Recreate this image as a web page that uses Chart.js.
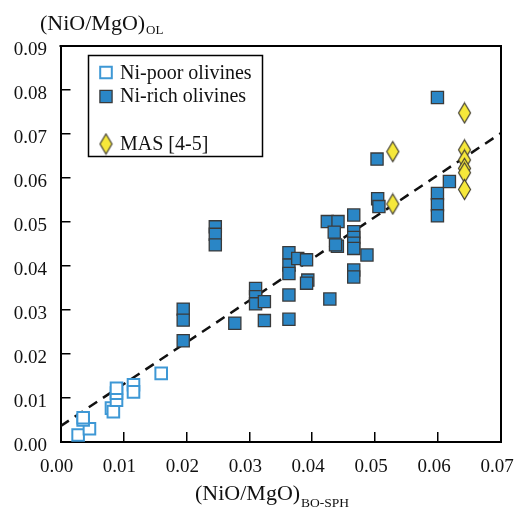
<!DOCTYPE html>
<html lang="en">
<head>
    <meta charset="UTF-8">
    <title>NiO/MgO olivine vs BO-SPH</title>
    <script src="https://cdn.jsdelivr.net/npm/chart.js"></script>
    <style>
        html, body { margin: 0; padding: 0; background: #fff; }
        #wrap { width: 515px; height: 510px; }
    </style>
</head>
<body>
<div id="wrap"><canvas id="chart" width="515" height="510"></canvas></div>
<script>
    // values
    const poorX = [0.0028, 0.0046, 0.0036, 0.0036, 0.0081, 0.0084, 0.0089, 0.0089, 0.0089, 0.0116, 0.0116, 0.0160];
    const poorY = [0.0016, 0.0030, 0.0050, 0.0055, 0.0077, 0.0069, 0.0095, 0.0111, 0.0122, 0.0130, 0.0114, 0.0156];

    const richX = [0.0195, 0.0195, 0.0195, 0.0246, 0.0246, 0.0246, 0.0277, 0.0310, 0.0310, 0.0310,
                   0.0324, 0.0324, 0.0363, 0.0363, 0.0363, 0.0363, 0.0363, 0.0377, 0.0391, 0.0393,
                   0.0391, 0.0424, 0.0441, 0.0435, 0.0440, 0.0437, 0.0428, 0.0466, 0.0466, 0.0466,
                   0.0466, 0.0466, 0.0466, 0.0466, 0.0487, 0.0503, 0.0504, 0.0506, 0.0599, 0.0599,
                   0.0599, 0.0599, 0.0618];
    const richY = [0.0302, 0.0277, 0.0230, 0.0489, 0.0472, 0.0448, 0.0270, 0.0349, 0.0330, 0.0314,
                   0.0319, 0.0276, 0.0430, 0.0402, 0.0383, 0.0334, 0.0279, 0.0417, 0.0414, 0.0368,
                   0.0361, 0.0501, 0.0501, 0.0477, 0.0445, 0.0448, 0.0325, 0.0516, 0.0478, 0.0465,
                   0.0452, 0.0440, 0.0391, 0.0375, 0.0425, 0.0643, 0.0553, 0.0535, 0.0783, 0.0565,
                   0.0539, 0.0514, 0.0592];

    const masX = [0.0528, 0.0528, 0.0642, 0.0642, 0.0642, 0.0642, 0.0642, 0.0642];
    const masY = [0.0660, 0.0541, 0.0748, 0.0664, 0.0641, 0.0622, 0.0612, 0.0574];

    // dashed trend line end points
    const fitX = [0, 0.07];
    const fitY = [0.0036, 0.0702];

    const xMax = 0.07, yMax = 0.09, tickStep = 0.01;

    function pts(xs, ys) {
        return xs.map((x, i) => ({ x: x, y: ys[i] }));
    }

    const serif = "'Liberation Serif', 'Times New Roman', serif";
    const richFill = '#2a86c6';
    const richEdge = '#3a3a3a';
    const poorEdge = '#3e98d5';

    // elongated diamond marker
    function makeDiamond() {
        const c = document.createElement('canvas');
        c.width = 15; c.height = 23;
        const g = c.getContext('2d');
        g.beginPath();
        g.moveTo(7.5, 1.5);
        g.lineTo(13.5, 11.5);
        g.lineTo(7.5, 21.5);
        g.lineTo(1.5, 11.5);
        g.closePath();
        g.fillStyle = '#f6e83a';
        g.fill();
        g.lineWidth = 1.2;
        g.strokeStyle = '#444033';
        g.stroke();
        return c;
    }
    const diamond = makeDiamond();

    const decor = {
        id: 'decor',
        afterDraw(chart) {
            const ctx = chart.ctx;
            const a = chart.chartArea;
            ctx.save();
            // top and right frame
            ctx.strokeStyle = '#000';
            ctx.lineWidth = 2;
            ctx.beginPath();
            ctx.moveTo(a.left - 1, a.top);
            ctx.lineTo(a.right, a.top);
            ctx.lineTo(a.right, a.bottom + 1);
            ctx.stroke();

            // axis titles with subscripts
            ctx.fillStyle = '#111';
            ctx.textBaseline = 'alphabetic';
            ctx.textAlign = 'left';
            ctx.font = '22px ' + serif;
            ctx.fillText('(NiO/MgO)', 40, 30);
            let w = ctx.measureText('(NiO/MgO)').width;
            ctx.font = '13px ' + serif;
            ctx.fillText('OL', 40 + w + 1, 34);

            ctx.font = '22px ' + serif;
            ctx.fillText('(NiO/MgO)', 195, 500);
            w = ctx.measureText('(NiO/MgO)').width;
            ctx.font = '13.5px ' + serif;
            ctx.fillText('BO-SPH', 195 + w + 1, 507);

            // legend box
            ctx.lineWidth = 1.5;
            ctx.strokeStyle = '#000';
            ctx.strokeRect(88.5, 55.5, 174, 101);
            const rows = [
                { ds: 0, label: 'Ni-poor olivines', y: 72.5, base: 78.5 },
                { ds: 1, label: 'Ni-rich olivines', y: 96.5, base: 102 },
                { ds: 2, label: 'MAS [4-5]', y: 144, base: 150 }
            ];
            ctx.font = '20px ' + serif;
            rows.forEach(r => {
                const d = chart.data.datasets[r.ds];
                ctx.fillStyle = d.backgroundColor;
                ctx.strokeStyle = d.borderColor;
                ctx.lineWidth = d.borderWidth;
                Chart.helpers.drawPoint(ctx, {
                    pointStyle: d.pointStyle,
                    radius: d.pointRadius,
                    borderWidth: d.borderWidth,
                    rotation: 0
                }, 106, r.y);
                ctx.fillStyle = '#111';
                ctx.fillText(r.label, 120, r.base);
            });
            ctx.restore();
        }
    };

    const ctx = document.getElementById('chart').getContext('2d');
    new Chart(ctx, {
        type: 'scatter',
        data: {
            datasets: [
                {
                    label: 'Ni-poor olivines',
                    data: pts(poorX, poorY),
                    pointStyle: 'rect',
                    pointRadius: 8.2,
                    backgroundColor: '#ffffff',
                    borderColor: poorEdge,
                    borderWidth: 2,
                    order: 3
                },
                {
                    label: 'Ni-rich olivines',
                    data: pts(richX, richY),
                    pointStyle: 'rect',
                    pointRadius: 8.6,
                    backgroundColor: richFill,
                    borderColor: richEdge,
                    borderWidth: 1.3,
                    order: 2
                },
                {
                    label: 'MAS [4-5]',
                    data: pts(masX, masY),
                    pointStyle: diamond,
                    pointRadius: 10,
                    backgroundColor: '#f6e83a',
                    borderColor: '#444033',
                    borderWidth: 1.2,
                    order: 1
                },
                {
                    type: 'line',
                    label: 'fit',
                    data: pts(fitX, fitY),
                    borderColor: '#111',
                    borderWidth: 2.5,
                    borderDash: [10, 7],
                    pointRadius: 0,
                    fill: false,
                    order: 10
                }
            ]
        },
        options: {
            responsive: false,
            animation: false,
            events: [],
            layout: {
                autoPadding: false,
                padding: { left: 0, top: 46, right: 14, bottom: 0 }
            },
            plugins: {
                legend: { display: false },
                tooltip: { enabled: false }
            },
            scales: {
                x: {
                    type: 'linear',
                    min: 0,
                    max: xMax,
                    border: { color: '#000', width: 2 },
                    grid: { drawOnChartArea: false, tickLength: -10, color: '#000', lineWidth: 1.5 },
                    ticks: {
                        stepSize: tickStep,
                        padding: 24,
                        labelOffset: -4,
                        color: '#111',
                        font: { family: serif, size: 19 },
                        maxRotation: 0,
                        autoSkip: false,
                        callback: v => v.toFixed(2)
                    },
                    afterFit(s) { s.height = 68; s.paddingLeft = 0; s.paddingRight = 0; }
                },
                y: {
                    type: 'linear',
                    min: 0,
                    max: yMax,
                    border: { color: '#000', width: 2 },
                    grid: { drawOnChartArea: false, tickLength: -10, color: '#000', lineWidth: 1.5 },
                    ticks: {
                        stepSize: tickStep,
                        padding: 23.5,
                        labelOffset: 4.5,
                        color: '#111',
                        font: { family: serif, size: 19 },
                        autoSkip: false,
                        callback: v => v.toFixed(2)
                    },
                    afterFit(s) { s.width = 60.5; s.paddingTop = 0; s.paddingBottom = 0; }
                }
            }
        },
        plugins: [decor]
    });
</script>
</body>
</html>
